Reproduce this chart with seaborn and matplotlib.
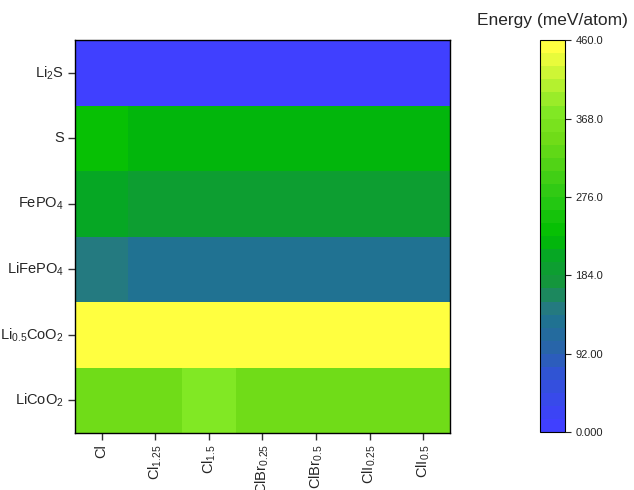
import numpy as np
import pandas as pd
import matplotlib
matplotlib.use("Agg")
import matplotlib.pyplot as plt
import seaborn as sns
from matplotlib.colors import LinearSegmentedColormap, ListedColormap

# =========================
# DATOS
# =========================
materiales = [r"$\mathregular{Li_2S}$", "S", r"$\mathregular{FePO_4}$",
              r"$\mathregular{LiFePO_4}$", r"$\mathregular{Li_{0.5}CoO_2}$",
              r"$\mathregular{LiCoO_2}$"]
dopajes = ["Cl", r"$\mathregular{Cl_{1.25}}$", r"$\mathregular{Cl_{1.5}}$",
           r"$\mathregular{ClBr_{0.25}}$", r"$\mathregular{ClBr_{0.5}}$",
           r"$\mathregular{ClI_{0.25}}$", r"$\mathregular{ClI_{0.5}}$"]

li2s     = [3, 3, 3, 3, 3, 3, 3]
azufre   = [238, 228, 228, 228, 228, 228, 228]
fepo4    = [205, 192, 192, 192, 192, 192, 192]
lifepo4  = [140, 128, 128, 128, 128, 128, 128]
li05coo2 = [455, 455, 455, 455, 455, 455, 455]
licoo2   = [345, 345, 372, 345, 345, 345, 345]

vmin, vmax = 0, 460
ticks_cbar = [0, 92, 184, 276, 368, 460]
etiquetas_cbar = ["0.000", "92.00", "184.0", "276.0", "368.0", "460.0"]

df = pd.DataFrame([li2s, azufre, fepo4, lifepo4, li05coo2, licoo2],
                  index=materiales, columns=dopajes)

# =========================
# ESTILO
# =========================
sns.set_style("white")
plt.rcParams["font.family"] = ["Liberation Sans", "DejaVu Sans"]
plt.rcParams["mathtext.fontset"] = "custom"
plt.rcParams["mathtext.rm"] = "Liberation Sans"
plt.rcParams["mathtext.it"] = "Liberation Sans:italic"

# mapa de color escalonado (30 niveles)
anclas = [
    (0.00, (64, 64, 255)),
    (0.14, (48, 84, 210)),
    (0.20, (40, 100, 170)),
    (0.276, (32, 114, 146)),
    (0.31, (36, 122, 128)),
    (0.38, (20, 150, 60)),
    (0.45, (5, 168, 35)),
    (0.50, (0, 190, 0)),
    (0.60, (40, 200, 20)),
    (0.76, (112, 220, 24)),
    (0.83, (130, 232, 36)),
    (1.00, (255, 255, 64)),
]
base = LinearSegmentedColormap.from_list(
    "energia", [(p, tuple(c / 255 for c in rgb)) for p, rgb in anclas])
cmap = ListedColormap(base(np.linspace(0, 1, 30)))

# =========================
# FIGURA
# =========================
fig = plt.figure(figsize=(6.34, 4.90), dpi=100)
ax = fig.add_axes([0.118, 0.116, 0.592, 0.802])
cax = fig.add_axes([0.852, 0.118, 0.039, 0.800])

sns.heatmap(df, ax=ax, cmap=cmap, vmin=vmin, vmax=vmax,
            cbar_ax=cax, linewidths=0)

for s in ax.spines.values():
    s.set_visible(True)
    s.set_color("black")
    s.set_linewidth(1.0)

ax.tick_params(axis="both", which="both", direction="out", length=5,
               width=1, color="#333333", labelsize=10.5, pad=3,
               bottom=True, left=True)
ax.set_yticklabels(materiales, rotation=0)
ax.set_xticklabels(dopajes, rotation=90)
ax.set_xlabel("")
ax.set_ylabel("")

cb = ax.collections[0].colorbar
cb.set_ticks(ticks_cbar)
cb.set_ticklabels(etiquetas_cbar)
cb.outline.set_visible(True)
cb.outline.set_edgecolor("black")
cb.outline.set_linewidth(0.8)
cax.tick_params(direction="out", length=4, width=0.8, labelsize=8,
                colors="#222222", right=True)
fig.text(0.872, 0.958, "Energy (meV/atom)", ha="center", va="center",
         fontsize=12.5)

fig.savefig("out.png", dpi=100)
